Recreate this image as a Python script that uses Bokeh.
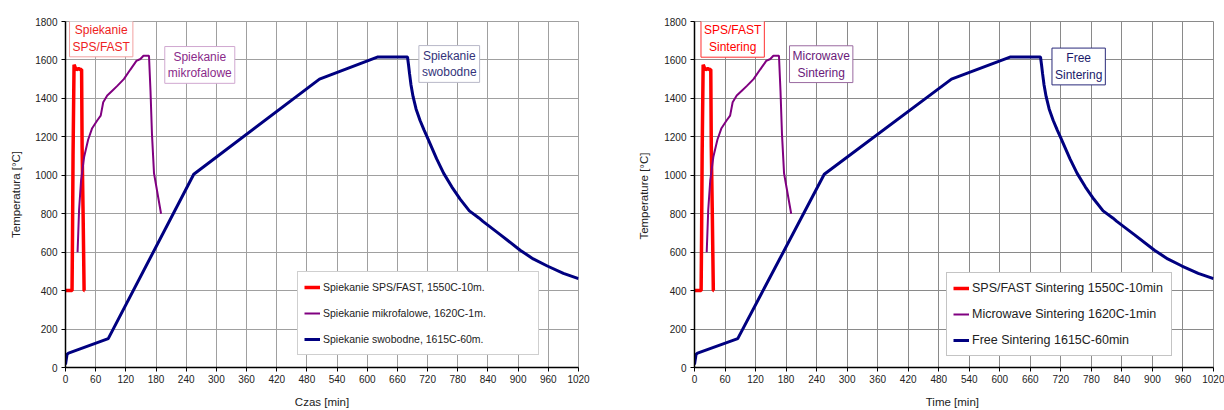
from bokeh.plotting import figure
from bokeh.layouts import row
from bokeh.models import Label, Legend, LegendItem, FixedTicker, Range1d
from bokeh.embed import file_html
from bokeh.resources import INLINE

# ---------------- data ----------------
sps_t = [-3, 13, 14, 15, 17, 18, 20, 22, 26, 30, 32, 33, 35, 37, 38]
sps_T = [400, 400, 700, 1100, 1575, 1570, 1555, 1550, 1555, 1550, 1550, 1150, 800, 400, 400]

mw_t = [24, 27, 31, 37, 45, 53, 63, 70, 75, 83, 93, 103, 116, 129, 141, 149, 155, 166, 169, 172, 176, 181, 190]
mw_T = [600, 820, 975, 1095, 1185, 1245, 1285, 1310, 1380, 1415, 1440, 1465, 1500, 1550, 1595, 1605, 1622, 1622, 1440, 1210, 1010, 935, 800]

fs_t = [0, 3, 6, 85, 255, 505, 620, 680, 682, 684, 687, 691, 697, 705, 713, 719, 738, 752, 768, 785, 803, 822, 830, 865, 904, 930, 958, 990, 1020]
fs_T = [15, 68, 75, 150, 1005, 1500, 1615, 1615, 1575, 1530, 1470, 1410, 1345, 1285, 1235, 1200, 1085, 1010, 940, 875, 815, 778, 760, 690, 610, 565, 528, 490, 462]

x_ticks = list(range(0, 1021, 60))
y_ticks = list(range(0, 1801, 200))

pl_legend = ["Spiekanie SPS/FAST, 1550C-10m.", "Spiekanie mikrofalowe, 1620C-1m.", "Spiekanie swobodne, 1615C-60m."]
en_legend = ["SPS/FAST Sintering 1550C-10min", "Microwave Sintering 1620C-1min", "Free Sintering 1615C-60min"]

pl_notes = ["Spiekanie\nSPS/FAST", "Spiekanie\nmikrofalowe", "Spiekanie\nswobodne"]
en_notes = ["SPS/FAST\nSintering", "Microwave\nSintering", "Free\nSintering"]

# annotation anchors (data units)
pl_note_pos = [(71, 1712), (267, 1574), (763, 1579)]
en_note_pos = [(75, 1710), (249, 1578), (755, 1566)]

RED = "#ff0000"
PURPLE = "#800080"
NAVY = "#000080"
FONT = "Liberation Sans"


def panel(width, bl, br, xlabel, ylabel, legend_labels, notes, note_pos,
          note_text_cols, note_border_cols, grid_col, leg_loc, leg_label_w,
          leg_font, ylab_standoff):
    p = figure(width=width, height=410, x_range=Range1d(0, 1020), y_range=Range1d(0, 1800),
               output_backend="svg", toolbar_location=None,
               min_border_left=bl, min_border_right=br, min_border_top=21, min_border_bottom=41)
    p.background_fill_color = "white"
    p.border_fill_color = "white"
    p.outline_line_color = grid_col

    p.xaxis.ticker = FixedTicker(ticks=x_ticks)
    p.yaxis.ticker = FixedTicker(ticks=y_ticks)
    p.xgrid.ticker = FixedTicker(ticks=x_ticks)
    p.ygrid.ticker = FixedTicker(ticks=y_ticks)
    p.grid.grid_line_color = grid_col
    p.grid.grid_line_width = 1

    for ax in (p.xaxis, p.yaxis):
        ax.axis_line_color = "black"
        ax.axis_line_width = 1.5
        ax.major_tick_line_color = "black"
        ax.minor_tick_line_color = None
        ax.major_tick_in = 0
        ax.major_tick_out = 4
        ax.major_label_text_font = FONT
        ax.major_label_text_font_size = "10px"
        ax.major_label_text_color = "#222222"
        ax.axis_label_text_font = FONT
        ax.axis_label_text_font_size = "11.5px"
        ax.axis_label_text_font_style = "normal"
        ax.axis_label_text_color = "#222222"
    p.xaxis.major_label_standoff = 3
    p.xaxis.axis_label_standoff = 10
    p.yaxis.major_label_standoff = 4
    p.yaxis.axis_label_standoff = ylab_standoff
    p.xaxis.axis_label = xlabel
    p.yaxis.axis_label = ylabel

    r1 = p.line(sps_t, sps_T, line_color=RED, line_width=3.5)
    r2 = p.line(mw_t, mw_T, line_color=PURPLE, line_width=2)
    r3 = p.line(fs_t, fs_T, line_color=NAVY, line_width=3)

    items = [LegendItem(label=legend_labels[0], renderers=[r1]),
             LegendItem(label=legend_labels[1], renderers=[r2]),
             LegendItem(label=legend_labels[2], renderers=[r3])]
    leg = Legend(items=items, location=leg_loc)
    leg.border_line_color = grid_col
    leg.background_fill_color = "white"
    leg.background_fill_alpha = 1
    leg.label_text_font = FONT
    leg.label_text_font_size = leg_font
    leg.label_text_color = "#222222"
    leg.glyph_width = 16
    leg.glyph_height = 18
    leg.label_height = 18
    leg.spacing = 8
    leg.padding = 6
    leg.margin = 0
    leg.label_standoff = 3
    leg.label_width = leg_label_w
    p.add_layout(leg)

    for txt, (x, y), tc, bc in zip(notes, note_pos, note_text_cols, note_border_cols):
        lab = Label(x=x, y=y, text=txt, text_align="center", text_baseline="middle",
                    text_font=FONT, text_font_size="12px", text_color=tc,
                    background_fill_color="white", border_line_color=bc,
                    border_line_width=1, padding=3)
        p.add_layout(lab)
    return p


p1 = panel(612, 65, 34, "Czas [min]", "Temperatura [°C]", pl_legend, pl_notes, pl_note_pos,
           ["#ee2222", "#8a2a8a", "#33337a"], ["#f2a0a0", "#d0a8d0", "#b8b8c8"],
           "#a0a0a0", (232, 12), 209, "10.5px", 10)
p2 = panel(612, 82, 11, "Time  [min]", "Temperature  [°C]", en_legend, en_notes, en_note_pos,
           ["#ff0000", "#6a1a7a", "#1a1a6a"], ["#ff3030", "#9a6aa0", "#2a2a7a"],
           "#8a8a8a", (252, 11), 193, "12.5px", 11)

layout = row(p1, p2)
open("out.html", "w").write(file_html(layout, INLINE))
